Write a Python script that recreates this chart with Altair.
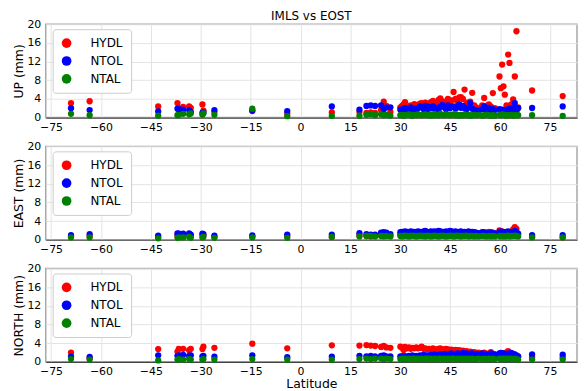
import altair as alt
import pandas as pd

FONT = "DejaVu Sans"
models = ["HYDL", "NTOL", "NTAL"]
colors = ["#ff0000", "#0000ff", "#008000"]
xticks = [-75, -60, -45, -30, -15, 0, 15, 30, 45, 60, 75]
yticks = [0, 4, 8, 12, 16, 20]

lat = [-69.0, -63.4, -42.8, -37.0, -36.6, -35.3, -33.5, -33.0, -29.5, -29.2, -25.9, -14.5, -4.0,
       9.4, 17.7, 19.8, 21.1, 22.4, 24.2, 25.0, 25.8, 27.0,
       30.0, 30.5, 31.0, 31.4, 32.0, 32.6, 33.1, 33.6, 34.2, 34.8, 35.3, 35.9, 36.4, 37.0, 37.5,
       38.1, 38.6, 39.2, 39.8, 40.3, 40.9, 41.5, 42.0, 42.6, 43.2, 43.7, 44.3, 44.9, 45.4, 46.0,
       46.6, 47.1, 47.7, 48.2, 48.8, 49.3, 49.9, 50.5, 51.0, 51.6, 52.2,
       52.8, 53.5, 54.6, 55.2, 55.9, 56.6, 57.2, 57.8, 58.4,
       59.8, 60.2, 60.6, 61.0, 61.4, 61.9, 62.4, 62.8, 63.3, 63.9, 64.4, 64.9, 65.4,
       69.6, 78.8]

up_hydl = [3.1, 3.5, 2.4, 3.1, 2.0, 2.3, 2.4, 2.1, 2.8, 1.5, 1.2, 1.4, 0.9,
           1.1, 1.2, 1.0, 1.1, 1.0, 1.6, 3.4, 2.5, 1.2,
           2.2, 2.5, 2.8, 3.3, 2.0, 2.4, 2.6, 2.1, 2.9, 2.3, 2.7, 3.0, 3.1, 2.5, 3.2,
           2.6, 2.8, 3.3, 3.6, 2.9, 3.2, 3.8, 4.1, 3.5, 3.0, 3.4, 4.0, 3.1, 3.7, 5.5,
           4.0, 3.5, 4.3, 4.4, 4.0, 6.0, 3.2, 2.9, 3.4, 5.3, 2.6,
           2.2, 1.9, 2.6, 4.2, 2.5, 2.8, 2.4, 5.25, 2.0,
           8.8, 6.3, 11.35, 6.7, 4.9, 2.6, 13.5, 11.7, 2.8, 3.9, 8.8, 18.5, 2.2,
           5.8, 4.6]
up_ntol = [2.0, 1.6, 1.3, 1.9, 1.8, 1.7, 1.6, 1.2, 1.0, 1.1, 1.6, 1.5, 1.4,
           2.4, 1.7, 2.5, 2.6, 2.5, 2.6, 1.8, 2.2, 2.2,
           1.7, 1.4, 1.9, 2.0, 1.6, 1.8, 2.2, 1.5, 1.9, 1.6, 2.0, 2.4, 2.2, 1.8, 2.5,
           1.7, 2.3, 2.0, 2.4, 1.9, 2.1, 1.7, 2.3, 2.7, 2.2, 1.8, 2.6, 2.0, 2.3, 2.4,
           1.9, 2.2, 2.8, 2.1, 2.5, 2.0, 1.8, 2.2, 3.1, 1.9, 1.6,
           1.6, 1.4, 1.8, 2.4, 1.7, 2.1, 1.5, 1.8, 1.6,
           1.8, 1.5, 1.7, 1.4, 1.6, 1.5, 1.8, 1.9, 1.4, 2.1, 3.1, 1.4, 2.0,
           2.05, 2.4]
up_ntal = [0.8, 0.5, 0.4, 0.5, 0.6, 0.8, 0.7, 0.9, 0.6, 0.9, 0.6, 1.9, 0.3,
           0.35, 0.4, 0.6, 0.7, 0.5, 0.7, 0.5, 0.6, 0.4,
           0.5, 0.6, 0.4, 0.5, 0.6, 0.7, 0.5, 0.4, 0.6, 0.5, 0.7, 0.6, 0.5, 0.6, 0.7,
           0.5, 0.6, 0.4, 0.7, 0.5, 0.6, 0.5, 0.8, 0.6, 0.5, 0.7, 0.6, 0.5, 0.6, 0.7,
           0.5, 0.6, 0.4, 0.6, 0.5, 0.7, 0.5, 0.6, 0.4, 0.5, 0.6,
           0.5, 0.6, 0.4, 0.5, 0.6, 0.5, 0.4, 0.5, 0.4,
           0.6, 0.5, 0.7, 0.6, 0.5, 0.4, 0.6, 0.5, 0.6, 0.4, 0.5, 0.6, 0.5,
           0.5, 0.35]

east_hydl = [0.7, 0.8, 0.6, 0.9, 0.8, 0.9, 1.0, 0.8, 1.0, 0.9, 0.6, 0.7, 0.8,
             0.6, 0.9, 0.8, 0.7, 0.8, 0.9, 1.0, 0.9, 0.8,
             1.1, 1.2, 1.0, 1.3, 1.2, 1.1, 1.4, 1.2, 1.3, 1.1, 1.2, 1.4, 1.3, 1.2, 1.5,
             1.3, 1.2, 1.4, 1.3, 1.1, 1.2, 1.4, 1.3, 1.5, 1.2, 1.3, 1.4, 1.2, 1.3, 1.5,
             1.4, 1.3, 1.2, 1.4, 1.3, 1.5, 1.2, 1.3, 1.4, 1.2, 1.3,
             1.3, 1.2, 1.4, 1.6, 1.5, 1.7, 1.6, 1.5, 1.4,
             2.0, 1.6, 1.8, 1.2, 1.0, 1.1, 1.3, 1.5, 1.2, 2.2, 2.7, 2.3, 1.2,
             0.6, 0.5]
east_ntol = [1.0, 1.2, 0.85, 1.35, 1.3, 1.3, 1.35, 1.1, 1.3, 1.2, 0.9, 0.95, 1.1,
             1.1, 1.4, 1.2, 1.1, 1.1, 1.5, 1.6, 1.5, 1.2,
             1.6, 1.7, 1.5, 1.8, 1.7, 1.6, 1.8, 1.7, 1.7, 1.6, 1.8, 1.7, 1.6, 1.8, 1.9,
             1.7, 1.6, 1.8, 1.7, 1.8, 1.7, 1.9, 1.8, 1.7, 1.6, 1.8, 1.7, 1.9, 1.8, 1.7,
             1.8, 1.6, 1.7, 1.8, 1.6, 1.7, 1.6, 1.8, 1.5, 1.7, 1.6,
             1.5, 1.4, 1.6, 1.5, 1.3, 1.4, 1.5, 1.4, 1.3,
             1.7, 1.8, 1.5, 1.6, 1.5, 1.7, 1.8, 1.4, 1.6, 1.5, 1.9, 1.6, 1.3,
             1.0, 1.0]
east_ntal = [0.5, 0.5, 0.3, 0.4, 0.5, 0.5, 0.6, 0.4, 0.5, 0.6, 0.4, 0.5, 0.4,
             0.6, 0.7, 0.8, 0.8, 0.7, 0.8, 0.7, 0.8, 0.7,
             0.8, 0.7, 0.8, 0.9, 0.8, 0.7, 0.8, 0.9, 0.8, 0.7, 0.8, 0.9, 0.8, 0.8, 0.7,
             0.9, 0.8, 0.7, 0.8, 0.9, 0.8, 0.7, 0.8, 0.9, 0.8, 0.7, 0.8, 0.8, 0.9, 0.7,
             0.8, 0.9, 0.8, 0.7, 0.8, 0.8, 0.9, 0.7, 0.8, 0.8, 0.7,
             0.8, 0.7, 0.8, 0.8, 0.7, 0.8, 0.7, 0.8, 0.7,
             0.8, 0.7, 0.8, 0.8, 0.7, 0.8, 0.9, 0.7, 0.8, 0.8, 0.9, 0.8, 0.7,
             0.5, 0.5]

north_hydl = [2.0, 0.8, 2.75, 2.2, 2.8, 2.8, 2.5, 2.8, 2.75, 3.25, 3.0, 3.9, 2.9,
              3.55, 3.5, 3.6, 3.5, 3.4, 3.2, 3.4, 3.1, 3.0,
              3.25, 3.0, 2.55, 3.2, 2.9, 3.1, 2.8, 3.0, 2.9, 3.1, 2.9, 3.0, 3.25, 2.8, 2.9,
              2.7, 2.8, 2.75, 2.9, 2.7, 2.6, 2.8, 2.9, 2.7, 2.6, 2.8, 2.7, 2.55, 2.6, 2.5,
              2.55, 2.4, 2.5, 2.3, 2.4, 2.2, 2.3, 2.1, 2.2, 2.0, 2.1,
              1.9, 2.0, 1.8, 2.0, 1.7, 1.8, 2.1, 1.6, 1.5,
              1.4, 1.6, 1.5, 1.7, 1.9, 2.0, 2.3, 1.8, 1.6, 1.5, 1.4, 1.3, 1.1,
              1.0, 1.0]
north_ntol = [1.1, 1.05, 1.4, 1.3, 1.4, 1.5, 1.3, 1.4, 1.2, 1.3, 1.1, 1.4, 1.0,
              1.1, 1.3, 1.2, 1.3, 1.2, 1.3, 1.4, 1.2, 1.2,
              1.2, 1.1, 1.3, 1.2, 1.1, 1.3, 1.2, 1.4, 1.2, 1.3, 1.2, 1.4, 1.3, 1.5, 1.3,
              1.4, 1.3, 1.5, 1.4, 1.6, 1.4, 1.5, 1.6, 1.5, 1.7, 1.6, 1.5, 1.7, 1.8, 1.7,
              1.6, 1.8, 1.7, 1.6, 1.9, 1.7, 1.8, 1.6, 1.7, 1.8, 1.6,
              1.7, 1.6, 1.8, 1.7, 1.5, 1.6, 1.8, 1.7, 1.6,
              1.8, 1.9, 1.7, 1.8, 1.6, 1.7, 1.5, 1.8, 1.9, 1.7, 1.6, 1.4, 1.2,
              1.6, 1.55]
north_ntal = [0.6, 0.5, 0.3, 0.5, 0.6, 0.5, 0.6, 0.5, 0.5, 0.6, 0.5, 0.6, 0.5,
              0.5, 0.6, 0.7, 0.6, 0.7, 0.7, 0.6, 0.7, 0.6,
              0.6, 0.7, 0.6, 0.7, 0.6, 0.7, 0.6, 0.7, 0.7, 0.6, 0.7, 0.6, 0.7, 0.6, 0.7,
              0.7, 0.6, 0.7, 0.6, 0.7, 0.6, 0.7, 0.7, 0.6, 0.7, 0.6, 0.7, 0.6, 0.7, 0.7,
              0.6, 0.7, 0.6, 0.7, 0.6, 0.7, 0.6, 0.7, 0.6, 0.7, 0.6,
              0.6, 0.7, 0.6, 0.7, 0.6, 0.7, 0.6, 0.7, 0.6,
              0.7, 0.6, 0.7, 0.6, 0.7, 0.6, 0.7, 0.6, 0.7, 0.6, 0.7, 0.6, 0.5,
              0.5, 0.5]

W = 535
H = 94
XDOM = [-76.6, 83.1]


def panel(series, ytitle, xtitle=None, title=None):
    rows = []
    for k, (m, vals) in enumerate(zip(models, series)):
        assert len(vals) == len(lat), (ytitle, m, len(vals), len(lat))
        for la, v in zip(lat, vals):
            rows.append({"lat": la, "val": v, "model": m, "k": k})
    df = pd.DataFrame(rows)
    xaxis = alt.Axis(values=xticks, title=xtitle if xtitle else None)
    ch = alt.Chart(df).mark_circle(size=40, opacity=1).encode(
        x=alt.X("lat:Q", scale=alt.Scale(domain=XDOM, nice=False, zero=False), axis=xaxis),
        y=alt.Y("val:Q", scale=alt.Scale(domain=[0, 20], nice=False),
                axis=alt.Axis(values=yticks, title=ytitle)),
        color=alt.Color("model:N", scale=alt.Scale(domain=models, range=colors),
                        legend=alt.Legend(title=None, orient="none", legendX=7, legendY=5)),
        order=alt.Order("k:Q"),
    ).properties(width=W, height=H)
    if title:
        ch = ch.properties(title=alt.TitleParams(title, font=FONT, fontSize=12, fontWeight="normal",
                                                 anchor="middle", frame="group", offset=-5, color="black"))
    return ch


p1 = panel([up_hydl, up_ntol, up_ntal], "UP (mm)", title="IMLS vs EOST")
p2 = panel([east_hydl, east_ntol, east_ntal], "EAST (mm)")
p3 = panel([north_hydl, north_ntol, north_ntal], "NORTH (mm)", xtitle="Latitude")

chart = alt.vconcat(p1, p2, p3, spacing=6).resolve_scale(color="independent").resolve_legend(
    color="independent"
).properties(
    padding={"left": 4, "top": 0, "right": 0, "bottom": 0}
).configure_view(
    stroke="#a8a8a8", strokeWidth=1.5
).configure_axis(
    labelFont=FONT, labelFontSize=11, labelColor="black",
    titleFont=FONT, titleFontSize=12.5, titleFontWeight="normal", titleColor="black",
    gridColor="#e4e4e4", gridWidth=1, ticks=False, labelPadding=3, domain=False,
    titlePadding=3
).configure_axisY(
    labelPadding=5, titlePadding=1
).configure_axisX(
    domain=True, domainColor="#444444", domainWidth=1.2, titlePadding=1, labelPadding=4
).configure_legend(
    labelFont=FONT, labelFontSize=12, labelColor="black",
    symbolType="circle", symbolSize=95, symbolStrokeWidth=0, symbolOpacity=1,
    fillColor="white", strokeColor="#cccccc", cornerRadius=3, padding=8,
    rowPadding=6, labelOffset=18
)

chart.save("out.html", embed_options={"renderer": "svg", "actions": False})
